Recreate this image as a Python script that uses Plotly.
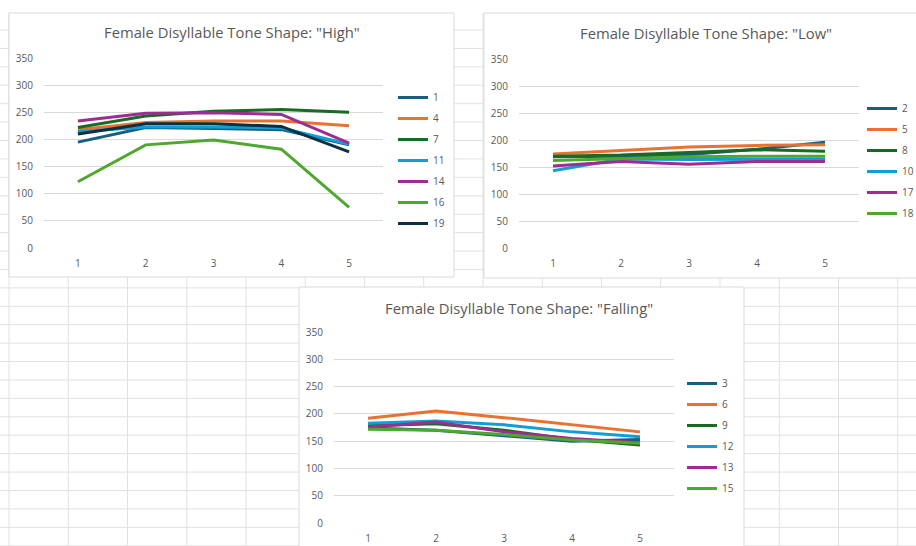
import plotly.graph_objects as go

W, H = 916, 546

# syllable sample points along the x axis
positions = [1, 2, 3, 4, 5]
y_ticks = [0, 50, 100, 150, 200, 250, 300, 350]

# "High" tone shape, F0 (Hz) per speaker
high_speakers = ["1", "4", "7", "11", "14", "16", "19"]
high_f0 = [
    [195, 222, 220, 218, 190],
    [218, 231, 234, 234, 225],
    [222, 243, 252, 255, 250],
    [214, 223, 223, 221, 191],
    [234, 248, 249, 246, 193],
    [122, 190, 199, 182, 75],
    [210, 229, 229, 224, 177],
]

# "Low" tone shape
low_speakers = ["2", "5", "8", "10", "17", "18"]
low_f0 = [
    [169, 170, 173, 183, 196],
    [174, 181, 187, 190, 191],
    [170, 172, 177, 182, 179],
    [143, 165, 164, 164, 165],
    [152, 160, 155, 160, 160],
    [162, 166, 169, 170, 170],
]

# "Falling" tone shape
fall_speakers = ["3", "6", "9", "12", "13", "15"]
fall_f0 = [
    [174, 170, 160, 150, 153],
    [192, 205, 193, 180, 167],
    [178, 182, 170, 153, 143],
    [183, 187, 180, 167, 158],
    [176, 185, 167, 155, 147],
    [172, 170, 162, 152, 146],
]

palette = ["#156082", "#E97132", "#196B24", "#0F9ED5", "#A02B93", "#4EA72E", "#0B3041"]
TEXT = "#595959"
FONT = "Open Sans"


def fx(px):
    return px / W


def fy(py):
    return 1 - py / H


fig = go.Figure()

charts = [
    # (speakers, values, xaxis, yaxis, legend, x-domain px, y-domain px, legend pos px, title, title pos px)
    (high_speakers, high_f0, "x", "y", "legend", (44, 383), (248, 58), (393, 83),
     'Female Disyllable Tone Shape: "High"', (232, 32)),
    (low_speakers, low_f0, "x2", "y2", "legend2", (519, 859), (248, 59), (862, 94),
     'Female Disyllable Tone Shape: "Low"', (706, 33)),
    (fall_speakers, fall_f0, "x3", "y3", "legend3", (334, 674), (523, 332), (682, 369),
     'Female Disyllable Tone Shape: "Falling"', (519, 308)),
]

for i, (names, vals, xa, ya, lg, xd, yd, lpos, title, tpos) in enumerate(charts):
    for j, (name, v) in enumerate(zip(names, vals)):
        fig.add_trace(go.Scatter(
            x=positions, y=v, name=name, mode="lines",
            line=dict(color=palette[j], width=3),
            xaxis=xa, yaxis=ya, legend=lg, legendgroup=f"{lg}-{name}",
        ))
    sfx = "" if i == 0 else str(i + 1)
    fig.update_layout(**{
        f"xaxis{sfx}": dict(
            domain=[fx(xd[0]), fx(xd[1])], range=[0.5, 5.5],
            tickvals=positions, showgrid=False, zeroline=False, showline=False,
            ticklabelstandoff=8, tickfont=dict(size=10, color=TEXT, family=FONT),
            anchor=f"y{sfx}", fixedrange=True, automargin=False,
        ),
        f"yaxis{sfx}": dict(
            domain=[fy(yd[0]), fy(yd[1])], range=[0, 350],
            tickvals=y_ticks, showgrid=True, gridcolor="#d9d9d9", gridwidth=1,
            zeroline=False, showline=False, ticklabelstandoff=10,
            tickfont=dict(size=10, color=TEXT, family=FONT),
            anchor=f"x{sfx}", fixedrange=True, automargin=False,
        ),
        lg: dict(
            x=fx(lpos[0]), y=fy(lpos[1]), xanchor="left", yanchor="top",
            bgcolor="rgba(0,0,0,0)", borderwidth=0, tracegroupgap=2,
            font=dict(size=10, color=TEXT, family=FONT),
        ),
    })
    fig.add_annotation(
        text=title, x=fx(tpos[0]), y=fy(tpos[1]), xref="paper", yref="paper",
        xanchor="center", yanchor="middle", showarrow=False,
        font=dict(size=14.8, color=TEXT, family=FONT),
    )

# worksheet cell grid behind the charts
shapes = []
row_y = 30.0
while row_y < H:
    shapes.append(dict(type="line", xref="paper", yref="paper", layer="below",
                       x0=0, x1=1, y0=fy(row_y), y1=fy(row_y),
                       line=dict(color="#e1e1e1", width=1)))
    row_y += 18.42
col_x = 9.0
while col_x < W:
    shapes.append(dict(type="line", xref="paper", yref="paper", layer="below",
                       x0=fx(col_x), x1=fx(col_x), y0=fy(13), y1=0,
                       line=dict(color="#e1e1e1", width=1)))
    col_x += 59.25

# chart frames
for (x0, y0, x1, y1) in [(9, 13, 454, 277), (484, 13, 920, 278), (299, 287, 744, 550)]:
    shapes.append(dict(type="rect", xref="paper", yref="paper", layer="below",
                       x0=fx(x0), x1=fx(x1), y0=fy(y1), y1=fy(y0),
                       fillcolor="white", line=dict(color="#d9d9d9", width=1)))

fig.update_layout(
    width=W, height=H,
    margin=dict(l=0, r=0, t=0, b=0, autoexpand=False),
    paper_bgcolor="white", plot_bgcolor="rgba(0,0,0,0)",
    shapes=shapes, showlegend=True,
    font=dict(family=FONT, color=TEXT),
)

fig.write_html("out.html")
